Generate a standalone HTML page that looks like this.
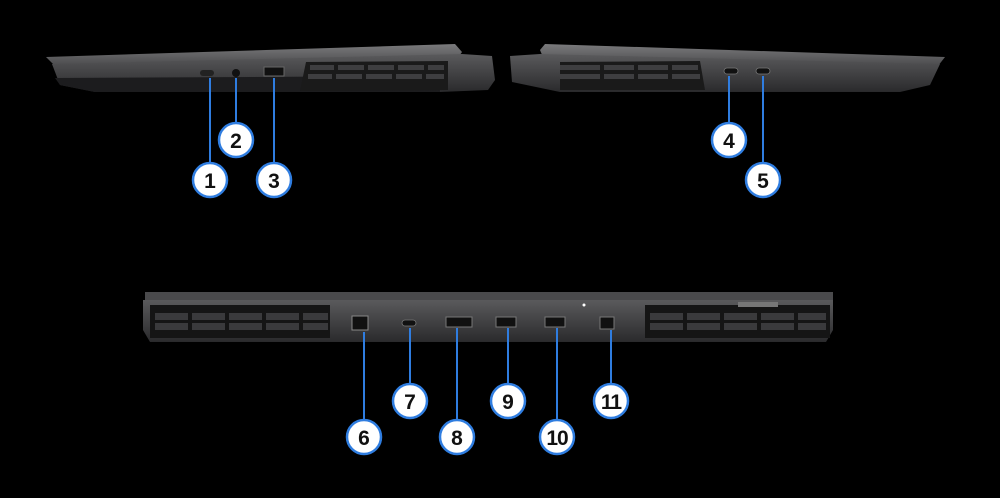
<!DOCTYPE html>
<html><head><style>
html,body{margin:0;padding:0;background:#000;}
svg{display:block}
text{font-family:"Liberation Sans",sans-serif;font-weight:bold;font-size:21px;fill:#111;text-anchor:middle}
</style></head><body>
<svg width="1000" height="498" viewBox="0 0 1000 498">
<rect width="1000" height="498" fill="#000"/>
<defs>
<linearGradient id="lid" x1="0" y1="0" x2="0" y2="1"><stop offset="0" stop-color="#7a7a7c"/><stop offset="1" stop-color="#4a4a4c"/></linearGradient>
<linearGradient id="body" x1="0" y1="0" x2="0" y2="1"><stop offset="0" stop-color="#5a5a5c"/><stop offset="1" stop-color="#2a2a2c"/></linearGradient>
</defs>
<!-- left side laptop -->
<polygon points="46,57 455,44 462,52 455,62 55,66" fill="url(#lid)"/>
<polygon points="52,64 462,54 492,56 495,80 488,90 440,92 95,92 60,85" fill="url(#body)"/>
<polygon points="55,78 440,76 440,92 95,92 60,85" fill="#1c1c1e"/>
<polygon points="306,62 448,61 448,90 300,91" fill="#1a1a1a"/>
<g fill="#3e3e40">
<rect x="310" y="65" width="24" height="5"/><rect x="338" y="65" width="26" height="5"/><rect x="368" y="65" width="26" height="5"/><rect x="398" y="65" width="26" height="5"/><rect x="428" y="65" width="16" height="5"/>
<rect x="308" y="74" width="24" height="5"/><rect x="336" y="74" width="26" height="5"/><rect x="366" y="74" width="26" height="5"/><rect x="396" y="74" width="26" height="5"/><rect x="426" y="74" width="18" height="5"/>
</g>
<rect x="200" y="70" width="14" height="6" rx="3" fill="#222"/>
<circle cx="236" cy="73" r="4" fill="#111"/>
<rect x="264" y="67" width="20" height="9" fill="#111" stroke="#666" stroke-width="1"/>
<!-- right side laptop -->
<polygon points="545,44 945,57 938,66 545,62 540,50" fill="url(#lid)"/>
<polygon points="510,56 540,54 940,64 930,85 900,92 560,92 512,82" fill="url(#body)"/>
<polygon points="560,62 700,61 705,90 560,90" fill="#1a1a1a"/>
<g fill="#3e3e40">
<rect x="560" y="65" width="40" height="5"/><rect x="604" y="65" width="30" height="5"/><rect x="638" y="65" width="30" height="5"/><rect x="672" y="65" width="26" height="5"/>
<rect x="560" y="74" width="40" height="5"/><rect x="604" y="74" width="30" height="5"/><rect x="638" y="74" width="30" height="5"/><rect x="672" y="74" width="28" height="5"/>
</g>
<rect x="724" y="68" width="14" height="6" rx="3" fill="#111" stroke="#777" stroke-width="0.8"/>
<rect x="756" y="68" width="14" height="6" rx="3" fill="#111" stroke="#777" stroke-width="0.8"/>
<!-- rear laptop -->
<rect x="145" y="292" width="688" height="8" fill="#4a4a4c"/>
<path d="M143,300 H833 V330 L826,342 H150 L143,330 Z" fill="url(#body)"/>
<polygon points="150,305 330,305 330,338 150,338" fill="#151515"/>
<polygon points="645,305 830,305 830,338 645,338" fill="#151515"/>
<g fill="#3a3a3c">
<rect x="155" y="313" width="33" height="7"/><rect x="192" y="313" width="33" height="7"/><rect x="229" y="313" width="33" height="7"/><rect x="266" y="313" width="33" height="7"/><rect x="303" y="313" width="25" height="7"/>
<rect x="155" y="323" width="33" height="7"/><rect x="192" y="323" width="33" height="7"/><rect x="229" y="323" width="33" height="7"/><rect x="266" y="323" width="33" height="7"/><rect x="303" y="323" width="25" height="7"/>
<rect x="650" y="313" width="33" height="7"/><rect x="687" y="313" width="33" height="7"/><rect x="724" y="313" width="33" height="7"/><rect x="761" y="313" width="33" height="7"/><rect x="798" y="313" width="28" height="7"/>
<rect x="650" y="323" width="33" height="7"/><rect x="687" y="323" width="33" height="7"/><rect x="724" y="323" width="33" height="7"/><rect x="761" y="323" width="33" height="7"/><rect x="798" y="323" width="28" height="7"/>
</g>
<rect x="738" y="302" width="40" height="5" fill="#777"/>
<rect x="352" y="316" width="16" height="14" fill="#111" stroke="#888" stroke-width="1"/>
<rect x="402" y="320" width="14" height="6" rx="3" fill="#111" stroke="#777" stroke-width="0.8"/>
<rect x="446" y="317" width="26" height="10" fill="#111" stroke="#777" stroke-width="1"/>
<rect x="496" y="317" width="20" height="10" fill="#111" stroke="#777" stroke-width="1"/>
<rect x="545" y="317" width="20" height="10" fill="#111" stroke="#777" stroke-width="1"/>
<rect x="600" y="317" width="14" height="12" fill="#111" stroke="#777" stroke-width="1"/>
<circle cx="584" cy="305" r="1.5" fill="#fff"/>
<!-- leader lines -->
<g stroke="#2f7de0" stroke-width="2">
<line x1="210" y1="78" x2="210" y2="163"/><line x1="236" y1="78" x2="236" y2="123"/><line x1="274" y1="78" x2="274" y2="163"/>
<line x1="729" y1="76" x2="729" y2="123"/><line x1="763" y1="76" x2="763" y2="163"/>
<line x1="364" y1="332" x2="364" y2="420"/><line x1="410" y1="328" x2="410" y2="384"/><line x1="457" y1="328" x2="457" y2="420"/>
<line x1="508" y1="328" x2="508" y2="384"/><line x1="557" y1="328" x2="557" y2="420"/><line x1="611" y1="330" x2="611" y2="384"/>
</g>
<g fill="#fff" stroke="#2f7de0" stroke-width="2.5">
<circle cx="210" cy="180" r="17"/><circle cx="236" cy="140" r="17"/><circle cx="274" cy="180" r="17"/>
<circle cx="729" cy="140" r="17"/><circle cx="763" cy="180" r="17"/>
<circle cx="364" cy="437" r="17"/><circle cx="410" cy="401" r="17"/><circle cx="457" cy="437" r="17"/>
<circle cx="508" cy="401" r="17"/><circle cx="557" cy="437" r="17"/><circle cx="611" cy="401" r="17"/>
</g>
<g>
<text x="210" y="188">1</text><text x="236" y="148">2</text><text x="274" y="188">3</text>
<text x="729" y="148">4</text><text x="763" y="188">5</text>
<text x="364" y="445">6</text><text x="410" y="409">7</text><text x="457" y="445">8</text>
<text x="508" y="409">9</text><text x="557" y="445" style="letter-spacing:-1px">10</text><text x="611" y="409" style="letter-spacing:-1px">11</text>
</g>
</svg>
</body></html>
